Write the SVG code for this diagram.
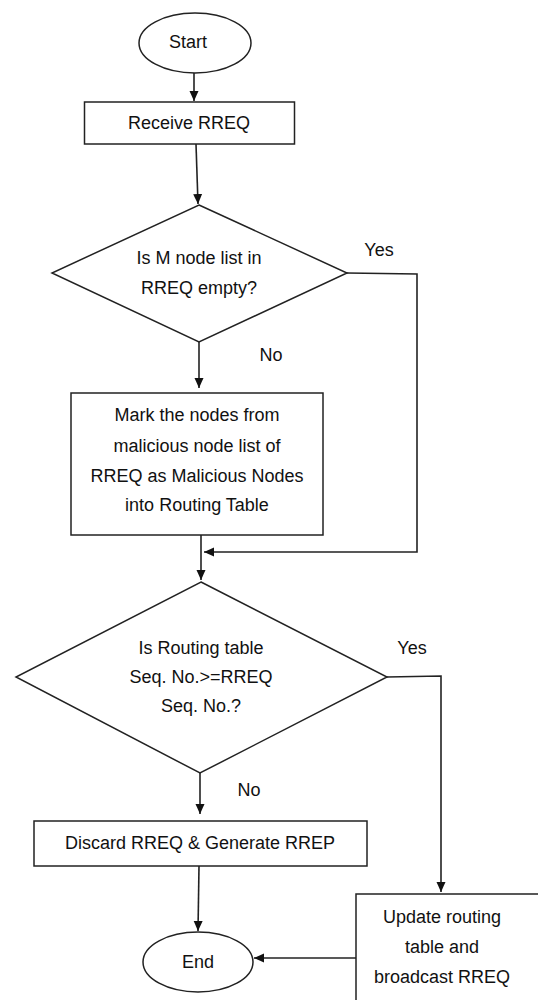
<svg xmlns="http://www.w3.org/2000/svg" width="538" height="1000" viewBox="0 0 538 1000">
<style>
.s{fill:#fff;stroke:#222;stroke-width:1.5}
.t{font-family:"Liberation Sans",Arial,sans-serif;font-size:18px;fill:#111;text-anchor:middle;dominant-baseline:central}
.c{fill:none;stroke:#222;stroke-width:1.6}
</style>
<defs>
<marker id="a" viewBox="0 0 10 10" refX="10" refY="5" markerWidth="10" markerHeight="10" markerUnits="userSpaceOnUse" orient="auto">
<path d="M0,0.5 L10,5 L0,9.5 Z" fill="#111"/>
</marker>
</defs>
<rect width="538" height="1000" fill="#fff"/>
<g id="connectors">
<path class="c" d="M194,73 L194,101" marker-end="url(#a)"/>
<path class="c" d="M196,144 L198,204" marker-end="url(#a)"/>
<path class="c" d="M199,342 L199,388" marker-end="url(#a)"/>
<path class="c" d="M347,273 L417,274 L417,552 L204,552" marker-end="url(#a)"/>
<path class="c" d="M201,535 L201,580" marker-end="url(#a)"/>
<path class="c" d="M387,677 L441,676 L441,892" marker-end="url(#a)"/>
<path class="c" d="M200,773 L200,814" marker-end="url(#a)"/>
<path class="c" d="M199,866 L198,931" marker-end="url(#a)"/>
<path class="c" d="M356,958 L254,958" marker-end="url(#a)"/>
<text class="t" x="379" y="250">Yes</text>
<text class="t" x="271" y="355">No</text>
<text class="t" x="412" y="648">Yes</text>
<text class="t" x="249" y="790">No</text>
</g>
<g id="start">
<ellipse class="s" cx="195" cy="43" rx="56" ry="30"/>
<text class="t" x="188" y="42">Start</text>
</g>
<g id="receive">
<rect class="s" x="84.5" y="102" width="210" height="42"/>
<text class="t" x="189" y="123">Receive RREQ</text>
</g>
<g id="decision1">
<polygon class="s" points="199,205 347,273 199,342 52,273"/>
<text class="t" x="199" y="258">Is M node list in</text>
<text class="t" x="199" y="288">RREQ empty?</text>
</g>
<g id="mark">
<rect class="s" x="71" y="393" width="252" height="142"/>
<text class="t" x="197" y="415">Mark the nodes from</text>
<text class="t" x="197" y="446">malicious node list of</text>
<text class="t" x="197" y="476">RREQ as Malicious Nodes</text>
<text class="t" x="197" y="505">into Routing Table</text>
</g>
<g id="decision2">
<polygon class="s" points="201,582 387,677 200,773 16,677"/>
<text class="t" x="201" y="648">Is Routing table</text>
<text class="t" x="201" y="677">Seq. No.&gt;=RREQ</text>
<text class="t" x="201" y="706">Seq. No.?</text>
</g>
<g id="discard">
<rect class="s" x="34" y="821" width="333" height="45"/>
<text class="t" x="200" y="843">Discard RREQ &amp; Generate RREP</text>
</g>
<g id="update">
<rect class="s" x="356" y="894" width="190" height="120"/>
<text class="t" x="442" y="917">Update routing</text>
<text class="t" x="442" y="947">table and</text>
<text class="t" x="442" y="977">broadcast RREQ</text>
</g>
<g id="end">
<ellipse class="s" cx="198" cy="962" rx="55" ry="30"/>
<text class="t" x="198" y="962">End</text>
</g>
</svg>
